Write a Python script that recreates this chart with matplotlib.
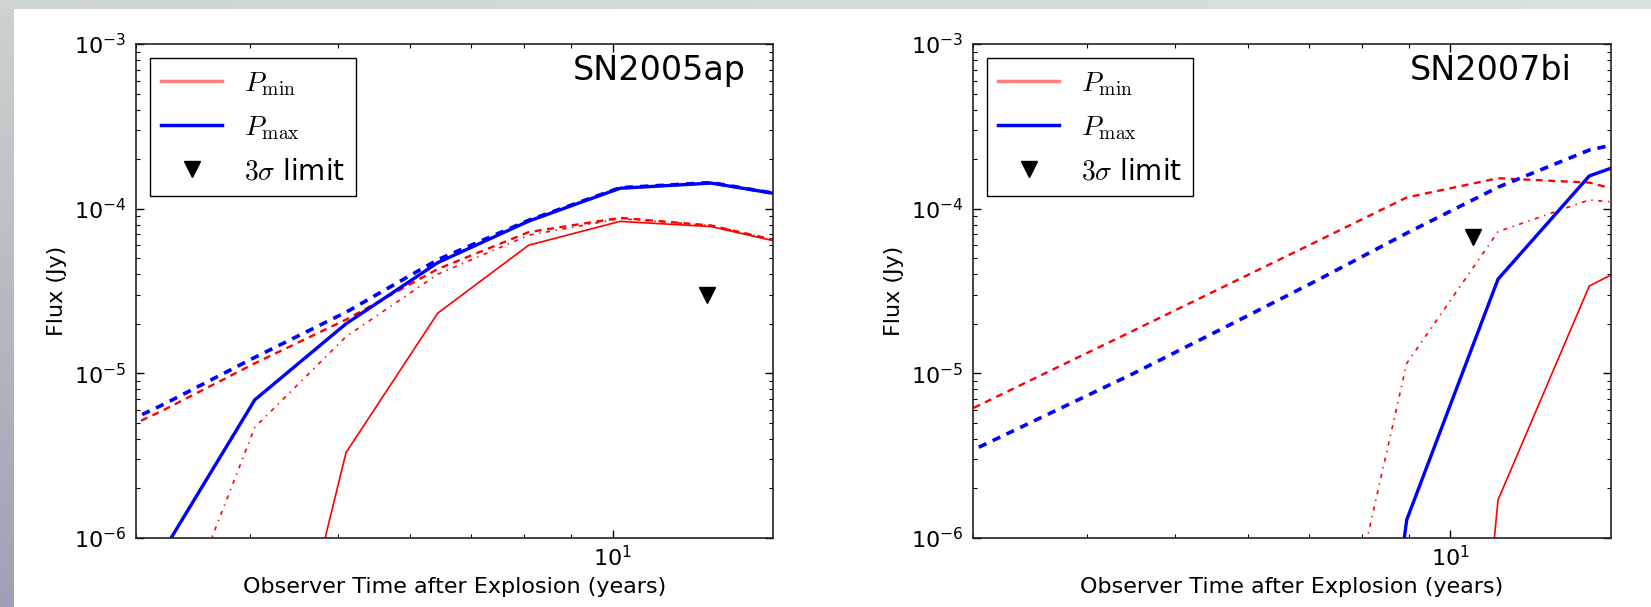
import numpy as np
import matplotlib
matplotlib.use('Agg')
import matplotlib.pyplot as plt
from matplotlib.ticker import LogLocator, NullFormatter, LogFormatterSciNotation

# observer-frame times (years) for the two supernovae
t_05ap = [2.56, 3.22, 4.05, 5.10, 6.43, 8.09, 10.19, 12.83, 16.15]
t_07bi = [2.84, 3.57, 4.49, 5.66, 7.12, 8.96, 11.28, 14.20, 17.88]

# SN2005ap model fluxes (Jy)
ap_pmin_solid = [1e-10, 1e-10, 1.8e-8, 3.3e-6, 2.32e-5, 6.0e-5, 8.37e-5, 7.78e-5, 5.83e-5]
ap_pmin_dashed = [3.3e-6, 6.0e-6, 1.15e-5, 2.12e-5, 4.3e-5, 7.2e-5, 8.8e-5, 7.9e-5, 5.9e-5]
ap_pmin_dotted = [1e-9, 1.8e-7, 4.7e-6, 1.67e-5, 4.0e-5, 6.9e-5, 8.7e-5, 7.9e-5, 5.9e-5]
ap_pmax_solid = [1e-9, 8.5e-7, 6.9e-6, 2.0e-5, 4.7e-5, 8.4e-5, 1.33e-4, 1.43e-4, 1.16e-4]
ap_pmax_dashed = [3.55e-6, 6.5e-6, 1.25e-5, 2.35e-5, 4.9e-5, 8.5e-5, 1.34e-4, 1.44e-4, 1.16e-4]
ap_limit_t = [12.7]
ap_limit_f = [3.0e-5]

# SN2007bi model fluxes (Jy)
bi_pmin_solid = [1e-12, 1e-12, 1e-12, 1e-12, 1e-12, 3e-12, 1.7e-6, 3.39e-5, 6.5e-5]
bi_pmin_dashed = [5.3e-6, 9.8e-6, 1.81e-5, 3.38e-5, 6.27e-5, 1.17e-4, 1.53e-4, 1.44e-4, 1.03e-4]
bi_pmin_dotted = [1e-10, 1e-10, 1e-10, 1e-10, 4.1e-8, 1.15e-5, 7.25e-5, 1.13e-4, 1.01e-4]
bi_pmax_solid = [1e-12, 1e-12, 1e-12, 1e-12, 1e-10, 1.29e-6, 3.73e-5, 1.58e-4, 2.49e-4]
bi_pmax_dashed = [2.96e-6, 5.42e-6, 9.94e-6, 1.9e-5, 3.63e-5, 7.1e-5, 1.35e-4, 2.27e-4, 3.0e-4]
bi_limit_t = [10.58]
bi_limit_f = [6.7e-5]

plt.rcParams['mathtext.fontset'] = 'cm'
plt.rcParams['lines.scale_dashes'] = False
plt.rcParams['xtick.direction'] = 'in'
plt.rcParams['ytick.direction'] = 'in'
plt.rcParams['xtick.top'] = True
plt.rcParams['ytick.right'] = True

fig = plt.figure(figsize=(16.51, 6.07), dpi=100)
fig.patch.set_facecolor('white')

# slide background strips (left and top)
bg_left = fig.add_axes([0, 0, 13 / 1651, 1])
grad = np.linspace(0, 1, 256)[:, None, None]
top_c = np.array([0.80, 0.83, 0.81])
bot_c = np.array([0.62, 0.63, 0.71])
bg_left.imshow(top_c * (1 - grad) + bot_c * grad, aspect='auto')
bg_left.axis('off')
bg_top = fig.add_axes([0, 1 - 9 / 607, 1, 9 / 607])
gradx = np.linspace(0, 1, 256)[None, :, None]
l_c = np.array([0.81, 0.84, 0.82])
r_c = np.array([0.85, 0.89, 0.87])
bg_top.imshow(l_c * (1 - gradx) + r_c * gradx, aspect='auto')
bg_top.axis('off')


def draw_panel(ax, t, pmin_solid, pmin_dashed, pmin_dotted, pmax_solid, pmax_dashed,
               lim_t, lim_f, name):
    ax.plot(t, pmin_solid, color='r', lw=1.2)
    ax.plot(t, pmin_dashed, color='r', lw=1.7, dashes=(5, 4))
    ax.plot(t, pmin_dotted, color='r', lw=1.2, dashes=(3, 4, 1, 4))
    ax.plot(t, pmax_solid, color='b', lw=2.4)
    ax.plot(t, pmax_dashed, color='b', lw=2.6, dashes=(6, 5))
    ax.plot(lim_t, lim_f, 'kv', ms=11, ls='none')

    # legend proxies
    h1, = ax.plot([], [], color='r', alpha=0.5, lw=2.5, label=r'$P_{\rm min}$')
    h2, = ax.plot([], [], color='b', lw=2.5, label=r'$P_{\rm max}$')
    h3, = ax.plot([], [], 'kv', ms=11, ls='none', label=r'$3\sigma$ limit')
    leg = ax.legend(handles=[h1, h2, h3], loc='upper left', fontsize=20,
                    fancybox=False, framealpha=1, edgecolor='black',
                    handlelength=2.2, numpoints=1, borderaxespad=0.5,
                    labelspacing=0.55)
    leg.get_frame().set_linewidth(1.0)

    ax.text(0.685, 0.927, name, transform=ax.transAxes, fontsize=24,
            ha='left', va='baseline')

    ax.set_xscale('log')
    ax.set_yscale('log')
    ax.set_xlim(3, 15)
    ax.set_ylim(1e-6, 1e-3)
    ax.xaxis.set_major_locator(LogLocator(base=10))
    ax.xaxis.set_minor_locator(LogLocator(base=10, subs=np.arange(2, 10)))
    ax.xaxis.set_minor_formatter(NullFormatter())
    ax.yaxis.set_major_formatter(LogFormatterSciNotation())
    ax.yaxis.set_minor_formatter(NullFormatter())
    ax.tick_params(which='major', length=6, width=1, labelsize=16)
    ax.tick_params(axis='x', which='major', pad=5)
    ax.tick_params(axis='y', which='major', pad=7)
    ax.tick_params(which='minor', length=3, width=0.8)
    for s in ax.spines.values():
        s.set_linewidth(1.2)
        s.set_color('#222222')
    ax.set_xlabel('Observer Time after Explosion (years)', fontsize=16, labelpad=5)
    ax.set_ylabel('Flux (Jy)', fontsize=16, labelpad=5)


ax1 = fig.add_axes([136 / 1651, 69 / 607, 637 / 1651, 494 / 607])
draw_panel(ax1, t_05ap, ap_pmin_solid, ap_pmin_dashed, ap_pmin_dotted,
           ap_pmax_solid, ap_pmax_dashed, ap_limit_t, ap_limit_f, 'SN2005ap')

ax2 = fig.add_axes([973 / 1651, 69 / 607, 638 / 1651, 494 / 607])
draw_panel(ax2, t_07bi, bi_pmin_solid, bi_pmin_dashed, bi_pmin_dotted,
           bi_pmax_solid, bi_pmax_dashed, bi_limit_t, bi_limit_f, 'SN2007bi')

fig.savefig('out.png', dpi=100)
